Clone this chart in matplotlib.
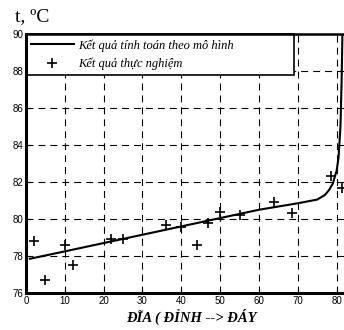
import numpy as np
import matplotlib as mpl
mpl.use("Agg")
import matplotlib.pyplot as plt

mpl.rcParams['lines.scale_dashes'] = False

# model curve (plate number vs temperature)
model_x = [1, 10, 20, 30, 40, 50, 60, 70, 75, 77, 78, 79, 80, 80.5, 81, 81.3, 81.5]
model_t = [77.85, 78.25, 78.7, 79.15, 79.6, 80.05, 80.5, 80.85, 81.05, 81.3,
           81.55, 81.9, 82.6, 83.3, 85.0, 87.5, 90.0]

# experimental points
exp_x = [2, 5, 10, 12, 22, 25, 36, 40, 44, 47, 50, 55, 64, 68.5, 78.5, 81.3]
exp_t = [78.8, 76.7, 78.6, 77.5, 78.9, 78.9, 79.7, 79.55, 78.6, 79.8,
         80.4, 80.2, 80.9, 80.3, 82.3, 81.7]

xticks = [0, 10, 20, 30, 40, 50, 60, 70, 80]
yticks = [76, 78, 80, 82, 84, 86, 88, 90]

serif = 'Liberation Serif'
sans = 'Liberation Sans'

fig = plt.figure(figsize=(3.44, 3.30), dpi=100)
ax = fig.add_axes([26/344, 37/330, 330/344, 259/330])

ax.plot(model_x, model_t, color='black', lw=1.5,
        label='Kết quả tính toán theo mô hình', zorder=3)
ax.plot(exp_x, exp_t, linestyle='none', marker='+', ms=7, mew=1.2,
        color='black', label='Kết quả thực nghiệm', zorder=3)

ax.set_xlim(0, 85)
ax.set_ylim(76, 90)
ax.set_xticks(xticks)
ax.set_yticks(yticks)
ax.grid(True, color='black', lw=0.8, linestyle=(0, (5, 3.6)))
ax.tick_params(direction='in', length=3, width=0.8, labelsize=7, pad=2)
for lab in ax.get_xticklabels() + ax.get_yticklabels():
    lab.set_family(sans)

ax.spines['left'].set_linewidth(2.2)
ax.spines['bottom'].set_linewidth(2.2)
ax.spines['top'].set_linewidth(1.8)

ax.set_xlabel('ĐĨA ( ĐỈNH --> ĐÁY', family=serif, style='italic',
              weight='bold', size=10.5, labelpad=2)

leg = ax.legend(loc='upper left', mode='expand', bbox_to_anchor=(0, 0, 0.812, 1),
                borderaxespad=0, fancybox=False, framealpha=1,
                handlelength=3.4, handletextpad=0.4, labelspacing=0.5,
                prop=dict(family=serif, style='italic', size=9))
leg.get_frame().set_edgecolor('black')
leg.get_frame().set_linewidth(1.2)
leg.set_zorder(2.4)

fig.text(15/344, 1 - 21/330, 't, ºC', family=serif, size=14)

fig.savefig('out.png', dpi=100)
